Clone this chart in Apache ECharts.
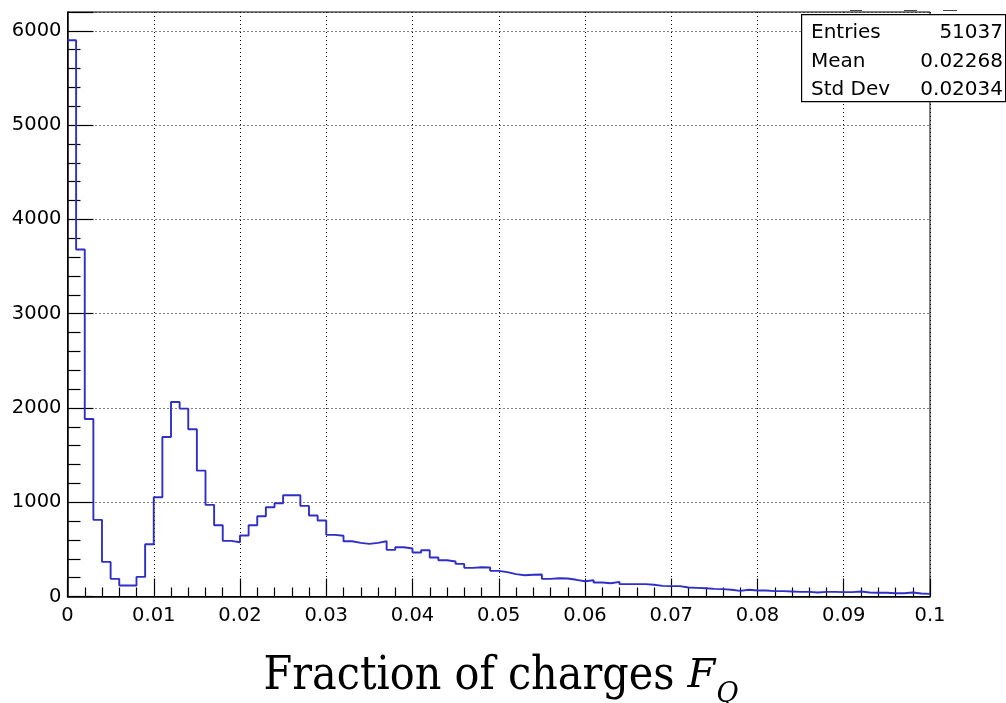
<!DOCTYPE html>
<html>
<head>
<meta charset="utf-8">
<script src="https://cdn.jsdelivr.net/npm/echarts@6/dist/echarts.min.js"></script>
<style>
html,body{margin:0;padding:0;background:#fff;}
#chart{width:1006px;height:703px;}
</style>
</head>
<body>
<div id="chart"></div>
<script>
// Histogram: 100 bins of width 0.001 on [0, 0.1]
const binWidth = 0.001;
const binCounts = [
  5900, 3680, 1883, 813, 367, 187, 117, 117, 208, 555,
  1053, 1692, 2063, 1993, 1774, 1335, 972, 756, 590, 576,
  647, 756, 851, 947, 989, 1074, 1074, 961, 859, 806,
  654, 645, 586, 569, 558, 569, 586, 495, 523, 509,
  466, 491, 413, 385, 371, 346, 304, 311, 307, 272,
  258, 237, 226, 230, 233, 187, 194, 191, 177, 162,
  173, 148, 141, 155, 131, 131, 131, 124, 113, 110,
  110, 95, 92, 88, 81, 78, 71, 60, 71, 64,
  64, 57, 57, 53, 49, 49, 42, 49, 49, 46,
  46, 53, 42, 39, 39, 35, 35, 42, 32, 28
];
const statNames = ['Entries', 'Mean', 'Std Dev'];
const statValues = ['51037', '0.02268', '0.02034'];
const xTitle = 'Fraction of charges ';
const xTitleVar = 'F';
const xTitleSub = 'Q';

// Build step points (left edge of each bin, plus closing right edge)
const points = binCounts.map((v, i) => [i * binWidth, v]);
points.push([binCounts.length * binWidth, binCounts[binCounts.length - 1]]);

const chart = echarts.init(document.getElementById('chart'), null, {renderer: 'canvas'});
const labelFont = 'DejaVu Sans';
const dotted = [1, 3];

const option = {
  animation: false,
  backgroundColor: '#ffffff',
  grid: {
    left: 67.5, right: 76, top: 12, bottom: 106.5,
    show: true, borderColor: '#000', borderWidth: 1, backgroundColor: 'transparent'
  },
  xAxis: {
    type: 'value', min: 0, max: 0.1, interval: 0.01,
    axisLine: {show: true, onZero: false, lineStyle: {color: '#000', width: 1.5}},
    axisTick: {show: true, inside: true, length: 18, lineStyle: {color: '#000', width: 1.2}},
    minorTick: {show: true, splitNumber: 5, length: 9, lineStyle: {color: '#000', width: 1.2}},
    axisLabel: {
      color: '#000', fontFamily: labelFont, fontSize: 19.5, margin: 9,
      formatter: v => String(parseFloat(v.toFixed(3)))
    },
    splitLine: {show: true, lineStyle: {color: '#000', width: 1, type: dotted}}
  },
  yAxis: {
    type: 'value', min: 0, max: 6200, interval: 1000,
    axisLine: {show: true, onZero: false, lineStyle: {color: '#000', width: 1.5}},
    axisTick: {show: true, inside: true, length: 26, lineStyle: {color: '#000', width: 1.2}},
    minorTick: {show: true, splitNumber: 5, length: 13, lineStyle: {color: '#000', width: 1.2}},
    axisLabel: {
      color: '#000', fontFamily: labelFont, fontSize: 19.5, margin: 6,
      showMaxLabel: false,
      formatter: v => (v % 1000 === 0 ? String(v) : '')
    },
    splitLine: {show: true, lineStyle: {color: '#000', width: 1, type: dotted}}
  },
  series: [{
    type: 'line',
    step: 'end',
    data: points,
    showSymbol: false,
    symbol: 'none',
    lineStyle: {color: '#2f2fc8', width: 1.9},
    clip: true
  }],
  graphic: [
    // stats box
    {
      type: 'rect', left: 801, top: 14, z: 100,
      shape: {width: 204, height: 87},
      style: {fill: '#fff', stroke: '#000', lineWidth: 1.2}
    },
    ...statNames.map((n, i) => ({
      type: 'text', left: 811, top: 23 + i * 28.3, z: 101,
      style: {text: n, fill: '#000', font: '20px "DejaVu Sans"'}
    })),
    ...statValues.map((n, i) => ({
      type: 'text', right: 3, top: 23 + i * 28.3, z: 101,
      style: {text: n, fill: '#000', font: '20px "DejaVu Sans"', textAlign: 'right'}
    })),
    // clipped title remnants
    {type: 'line', z: 100, shape: {x1: 850, y1: 10.5, x2: 862, y2: 10.5}, style: {stroke: '#444', lineWidth: 1}},
    {type: 'line', z: 100, shape: {x1: 904, y1: 10.5, x2: 917, y2: 10.5}, style: {stroke: '#444', lineWidth: 1}},
    {type: 'line', z: 100, shape: {x1: 943, y1: 10.5, x2: 957, y2: 10.5}, style: {stroke: '#444', lineWidth: 1}},
    // x-axis title
    {
      type: 'text', x: 501, y: 677, z: 101,
      style: {
        text: '{a|' + xTitle + '}{b|' + xTitleVar + '}{c|' + xTitleSub + '}',
        align: 'center', verticalAlign: 'middle',
        rich: {
          a: {fontFamily: '"DejaVu Serif Condensed", "DejaVu Serif"', fontSize: 46, lineHeight: 52, fill: '#000'},
          b: {fontFamily: '"DejaVu Serif"', fontStyle: 'italic', fontSize: 40, lineHeight: 52, fill: '#000'},
          c: {fontFamily: '"DejaVu Serif"', fontStyle: 'italic', fontSize: 27, lineHeight: 27, padding: [36, 0, 0, 1], fill: '#000'}
        }
      }
    }
  ]
};
chart.setOption(option);
</script>
</body>
</html>
